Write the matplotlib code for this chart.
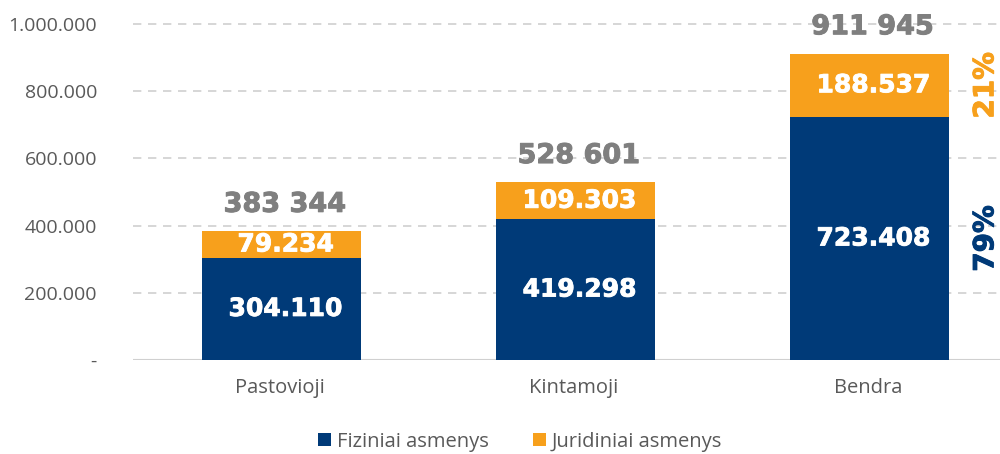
import matplotlib
matplotlib.use("Agg")
import matplotlib.pyplot as plt
import matplotlib.patheffects as pe
from matplotlib.patches import Patch
import numpy as np

categories = ["Pastovioji", "Kintamoji", "Bendra"]
fiziniai = [304110, 419298, 723408]
juridiniai = [79234, 109303, 188537]
fiz_labels = ["304.110", "419.298", "723.408"]
jur_labels = ["79.234", "109.303", "188.537"]
total_labels = ["383 344", "528 601", "911 945"]
totals = [383344, 528601, 911945]
yticks = [0, 200000, 400000, 600000, 800000, 1000000]
ytick_labels = ["-", "200.000", "400.000", "600.000", "800.000", "1.000.000"]
pct_labels = ["79%", "21%"]
series_names = ["Fiziniai asmenys", "Juridiniai asmenys"]

NAVY = "#003A78"
ORANGE = "#F7A01C"
GRAY_TXT = "#595959"
TOTAL_GRAY = "#7F7F7F"
BOLD_FONT = "DejaVu Sans"


def heavy(color, lw=0.6):
    return [pe.withStroke(linewidth=lw, foreground=color)]


fig = plt.figure(figsize=(10, 4.54), dpi=100)
ax = fig.add_axes([0.133, 0.207, 0.867, 0.740])

x = np.arange(len(categories))
w = 0.54
ax.bar(x + 0.005, fiziniai, width=w, color=NAVY, zorder=3)
ax.bar(x + 0.005, juridiniai, width=w, bottom=fiziniai, color=ORANGE, zorder=3)

ax.set_xlim(-0.5, 2.45)
ax.set_ylim(0, 1000000)

ax.set_yticks(yticks)
ax.set_yticklabels(ytick_labels, fontsize=14, color=GRAY_TXT, family="Open Sans")
ax.set_xticks(x)
ax.set_xticklabels(categories, fontsize=14.5, color=GRAY_TXT, family="Open Sans")
ax.tick_params(axis="both", length=0)
ax.tick_params(axis="y", pad=26)
ax.tick_params(axis="x", pad=13)

for v in yticks[1:]:
    ax.axhline(v, color="#D0D0D0", linewidth=1.2, linestyle=(0, (5, 4)), zorder=1, clip_on=False)
ax.axhline(0, color="#D0D0D0", linewidth=1.5, zorder=2)

for s in ax.spines.values():
    s.set_visible(False)

for i in range(len(categories)):
    xc = x[i] + 0.005
    ax.annotate(fiz_labels[i], (xc, fiziniai[i] / 2), xytext=(3, 0), textcoords="offset points",
                ha="center", va="center", color="white", fontsize=18, fontweight="bold",
                family=BOLD_FONT, zorder=4, path_effects=heavy("white"))
    ax.annotate(jur_labels[i], (xc, fiziniai[i] + juridiniai[i] / 2), xytext=(3, 0),
                textcoords="offset points", ha="center", va="center", color="white",
                fontsize=18, fontweight="bold", family=BOLD_FONT, zorder=4,
                path_effects=heavy("white"))
    ax.annotate(total_labels[i], (xc, totals[i]), xytext=(2.5, 19), textcoords="offset points",
                ha="center", va="center", color=TOTAL_GRAY, fontsize=19.5, fontweight="bold",
                family=BOLD_FONT, annotation_clip=False, path_effects=heavy(TOTAL_GRAY, 0.7))

last = len(categories) - 1
ax.text(2.40, fiziniai[last] / 2, pct_labels[0], rotation=90, ha="center", va="center",
        color=NAVY, fontsize=20, fontweight="bold", family=BOLD_FONT, clip_on=False,
        path_effects=heavy(NAVY, 0.7))
ax.text(2.40, fiziniai[last] + juridiniai[last] / 2, pct_labels[1], rotation=90, ha="center",
        va="center", color=ORANGE, fontsize=20, fontweight="bold", family=BOLD_FONT,
        clip_on=False, path_effects=heavy(ORANGE, 0.7))

handles = [Patch(facecolor=NAVY), Patch(facecolor=ORANGE)]
leg = fig.legend(handles, series_names, loc="center", bbox_to_anchor=(0.52, 0.027),
                 ncol=2, frameon=False, handlelength=0.65, handleheight=0.65,
                 handletextpad=0.3, columnspacing=2.2,
                 prop={"family": "Open Sans", "size": 14.5})
for t in leg.get_texts():
    t.set_color(GRAY_TXT)

fig.savefig("out.png", dpi=100)
